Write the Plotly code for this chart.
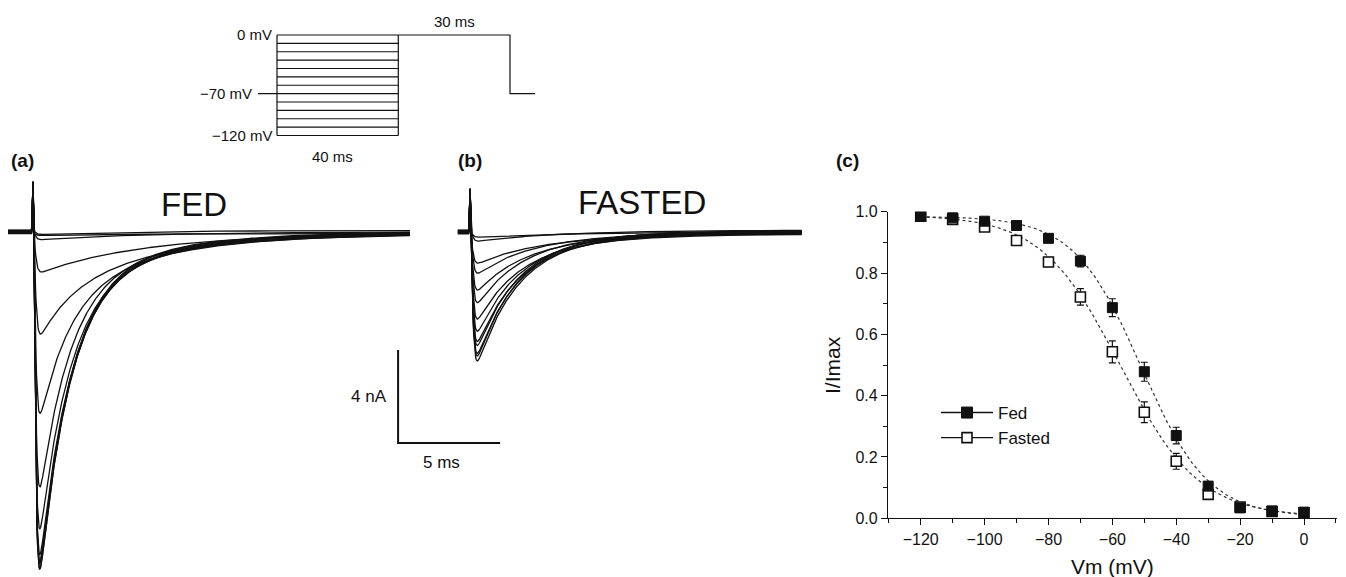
import numpy as np
import plotly.graph_objects as go

W, H = 1346, 577
FONT = "Liberation Sans, Arial, sans-serif"
INK = "#111111"

# ---------------- data ----------------
# prepulse steps of the inactivation protocol (mV)
PREPULSE_MV = [-120, -110, -100, -90, -80, -70, -60, -50, -40, -30, -20, -10, 0]
HOLDING_MV = -70
TEST_MV = 0

# steady-state inactivation, I/Imax (mean and SEM)
FED_IMAX = [0.985, 0.980, 0.969, 0.955, 0.913, 0.839, 0.687, 0.478, 0.270, 0.105, 0.034, 0.024, 0.020]
FED_SEM = [0.003, 0.004, 0.005, 0.005, 0.006, 0.019, 0.029, 0.031, 0.027, 0.013, 0.005, 0.004, 0.004]
FASTED_IMAX = [0.985, 0.975, 0.950, 0.906, 0.836, 0.722, 0.543, 0.346, 0.186, 0.078, 0.037, 0.022, 0.018]
FASTED_SEM = [0.003, 0.004, 0.006, 0.007, 0.015, 0.027, 0.036, 0.034, 0.026, 0.009, 0.005, 0.004, 0.004]

# Boltzmann fits: I/Imax = bottom + (top - bottom) / (1 + exp((V - v_half) / k))
FED_FIT = {"v_half": -51.0, "k": 10.5, "top": 0.985, "bottom": 0.005}
FASTED_FIT = {"v_half": -57.5, "k": 12.3, "top": 0.99, "bottom": 0.005}

# representative current sweeps, one per prepulse (peak inward current, nA)
FED_PEAK_NA = [14.54, 14.45, 14.32, 14.11, 13.89, 12.69, 11.01, 7.78, 4.47, 1.68, 0.34, 0.17, 0.09]
FED_SLOW_FRAC = [0.12, 0.12, 0.12, 0.13, 0.14, 0.15, 0.18, 0.30, 0.58, 0.95, 1.0, 1.0, 1.0]
FED_BASELINE_NA = [0.04, -0.03, 0.06, -0.05, 0.02, -0.07, 0.05, -0.02, 0.08, -0.04, 0.01, 0.07, -0.06]

FASTED_PEAK_NA = [5.51, 5.38, 5.20, 4.95, 4.65, 4.30, 3.66, 3.10, 2.49, 1.81, 1.29, 0.47, 0.22]
FASTED_SLOW_FRAC = [0.08, 0.08, 0.10, 0.12, 0.14, 0.18, 0.22, 0.28, 0.38, 0.50, 0.65, 0.85, 1.0]
FASTED_BASELINE_NA = [-0.04, 0.05, -0.02, 0.07, -0.06, 0.03, -0.08, 0.06, -0.01, 0.04, -0.05, 0.08, 0.0]

# kinetics (ms)
DT = 0.025
TAU_ACT = 0.08
FED_SWEEP = {"duration": 19.7, "onset": 1.225, "tau_fast": 1.5, "tau_slow": 5.5, "spike": 2.1}
FASTED_SWEEP = {"duration": 16.85, "onset": 0.6, "tau_fast": 2.0, "tau_slow": 4.5, "spike": 1.8}
FASTED_X_OFFSET = 22.05   # panel (b) sits to the right on the shared time axis

SCALE_T, SCALE_I = 5, 4   # scale bar: 5 ms, 4 nA


def sweep(peak, slow, base, duration, onset, tau_fast, tau_slow, spike):
    t = np.arange(0, duration + DT / 2, DT)
    s = t - onset
    sp = np.clip(s, 0, None)
    g = (1 - np.exp(-sp / TAU_ACT)) ** 3 * ((1 - slow) * np.exp(-sp / tau_fast) + slow * np.exp(-sp / tau_slow))
    g = np.where(s > 0, g, 0.0)
    g = g / g.max()
    cur = base - peak * g + spike * np.clip(1 - np.abs(s) / 0.06, 0, None)
    return t, cur


def boltzmann(v, p):
    return p["bottom"] + (p["top"] - p["bottom"]) / (1 + np.exp((v - p["v_half"]) / p["k"]))


fig = go.Figure()

# ---------------- current traces (a) and (b) ----------------
for pk, sl, bl in zip(FED_PEAK_NA, FED_SLOW_FRAC, FED_BASELINE_NA):
    t, cur = sweep(pk, sl, bl, **FED_SWEEP)
    fig.add_trace(go.Scatter(x=t, y=cur, mode="lines", line=dict(color=INK, width=1.3),
                             showlegend=False, hoverinfo="skip", xaxis="x", yaxis="y"))
for pk, sl, bl in zip(FASTED_PEAK_NA, FASTED_SLOW_FRAC, FASTED_BASELINE_NA):
    t, cur = sweep(pk, sl, bl, **FASTED_SWEEP)
    fig.add_trace(go.Scatter(x=t + FASTED_X_OFFSET, y=cur, mode="lines", line=dict(color=INK, width=1.3),
                             showlegend=False, hoverinfo="skip", xaxis="x", yaxis="y"))

# scale bar
sb_t0, sb_i0 = 19.12, -9.075
fig.add_trace(go.Scatter(x=[sb_t0, sb_t0, sb_t0 + SCALE_T], y=[sb_i0 + SCALE_I, sb_i0, sb_i0],
                         mode="lines", line=dict(color=INK, width=2), showlegend=False,
                         hoverinfo="skip", xaxis="x", yaxis="y"))

# ---------------- voltage protocol sketch ----------------
BOX_L, BOX_R, TEST_R, END = 0.0686, 0.5065, 0.9097, 1.0
px, py = [], []
for v in PREPULSE_MV:
    px += [BOX_L, BOX_R, None]
    py += [v, v, None]
px += [BOX_L, BOX_L, None, BOX_R, BOX_R, None]
py += [min(PREPULSE_MV), max(PREPULSE_MV), None, min(PREPULSE_MV), max(PREPULSE_MV), None]
px += [0, BOX_L, None]
py += [HOLDING_MV, HOLDING_MV, None]
px += [BOX_R, TEST_R, TEST_R, END]
py += [TEST_MV, TEST_MV, HOLDING_MV, HOLDING_MV]
fig.add_trace(go.Scatter(x=px, y=py, mode="lines", line=dict(color=INK, width=1.2),
                         showlegend=False, hoverinfo="skip", xaxis="x4", yaxis="y4"))

# ---------------- inactivation curves (c) ----------------
vfit = np.linspace(min(PREPULSE_MV), max(PREPULSE_MV), 241)
for p in (FED_FIT, FASTED_FIT):
    fig.add_trace(go.Scatter(x=vfit, y=boltzmann(vfit, p), mode="lines",
                             line=dict(color="#333333", width=1.2, dash="dot"),
                             showlegend=False, hoverinfo="skip", xaxis="x3", yaxis="y3"))

err_style = dict(type="data", color=INK, thickness=1.2, width=3.5)
fig.add_trace(go.Scatter(x=PREPULSE_MV, y=FASTED_IMAX, mode="markers",
                         error_y=dict(array=FASTED_SEM, **err_style),
                         marker=dict(symbol="square", size=10, color="white", line=dict(color=INK, width=1.6)),
                         showlegend=False, xaxis="x3", yaxis="y3"))
fig.add_trace(go.Scatter(x=PREPULSE_MV, y=FED_IMAX, mode="markers",
                         error_y=dict(array=FED_SEM, **err_style),
                         marker=dict(symbol="square", size=10, color=INK, line=dict(color=INK, width=1)),
                         showlegend=False, xaxis="x3", yaxis="y3"))

# legend entries
fig.add_trace(go.Scatter(x=[None], y=[None], mode="lines+markers", name="Fed",
                         line=dict(color=INK, width=1.4),
                         marker=dict(symbol="square", size=11, color=INK, line=dict(color=INK, width=1)),
                         xaxis="x3", yaxis="y3"))
fig.add_trace(go.Scatter(x=[None], y=[None], mode="lines+markers", name="Fasted",
                         line=dict(color=INK, width=1.4),
                         marker=dict(symbol="square", size=10, color="white", line=dict(color=INK, width=1.6)),
                         xaxis="x3", yaxis="y3"))


def X(p):
    return p / W


def Y(p):
    return 1 - p / H


hidden = dict(visible=False, showgrid=False, zeroline=False, fixedrange=True, automargin=False)
tick_font = dict(family=FONT, size=16, color=INK)

fig.update_layout(
    template="none",
    width=W, height=H, autosize=False,
    margin=dict(l=0, r=0, t=0, b=0, pad=0, autoexpand=False),
    paper_bgcolor="white", plot_bgcolor="white",
    font=dict(family=FONT, color=INK),
    xaxis=dict(domain=[0, X(820)], range=[-0.392, 39.80], anchor="y", **hidden),
    yaxis=dict(domain=[0, Y(170)], range=[-14.84, 2.667], anchor="x", **hidden),
    xaxis4=dict(domain=[X(258), X(535)], range=[0, 1], anchor="y4", **hidden),
    yaxis4=dict(domain=[Y(143.9), Y(26.6)], range=[-130, 10], anchor="x4", **hidden),
    xaxis3=dict(domain=[X(888), X(1337)], range=[-130.24, 10.33], anchor="y3",
                tickmode="array", tickvals=[-120, -100, -80, -60, -40, -20, 0],
                ticktext=["\u2212120", "\u2212100", "\u221280", "\u221260", "\u221240", "\u221220", "0"],
                ticks="outside", ticklen=6, tickwidth=1.2, tickcolor=INK,
                minor=dict(dtick=10, tick0=0, ticks="outside", ticklen=3.5, tickwidth=1.2, tickcolor=INK,
                           showgrid=False),
                showline=True, linecolor=INK, linewidth=1.3, showgrid=False, zeroline=False,
                tickfont=tick_font, fixedrange=True, automargin=False),
    yaxis3=dict(domain=[Y(518.3), Y(211.7)], range=[0, 1.0], anchor="x3",
                tickmode="linear", tick0=0, dtick=0.2, tickformat=".1f",
                ticks="outside", ticklen=6, tickwidth=1.2, tickcolor=INK,
                minor=dict(dtick=0.1, tick0=0, ticks="outside", ticklen=3.5, tickwidth=1.2, tickcolor=INK,
                           showgrid=False),
                showline=True, linecolor=INK, linewidth=1.3, showgrid=False, zeroline=False,
                tickfont=tick_font, fixedrange=True, automargin=False),
    legend=dict(x=X(936), y=Y(395), xanchor="left", yanchor="top",
                bgcolor="rgba(0,0,0,0)", borderwidth=0, itemwidth=52, tracegroupgap=0,
                font=dict(family=FONT, size=17, color=INK)),
    showlegend=True,
)

ann = []


def note(text, x, y, size, xref="paper", yref="paper", bold=False, xanchor="center", yanchor="middle", **kw):
    ann.append(dict(text=f"<b>{text}</b>" if bold else text, x=x, y=y, xref=xref, yref=yref,
                    xanchor=xanchor, yanchor=yanchor, showarrow=False,
                    font=dict(family=FONT, size=size, color=INK), **kw))


# panel labels and titles
note("(a)", X(22), Y(160), 19, bold=True)
note("(b)", X(470), Y(160), 19, bold=True)
note("(c)", X(847), Y(160), 19, bold=True)
note("FED", X(194), Y(204), 33)
note("FASTED", X(642), Y(203), 33)

# scale bar labels
note(f"{SCALE_I} nA", sb_t0 - 0.45, sb_i0 + SCALE_I / 2, 17, xref="x", yref="y", xanchor="right")
note(f"{SCALE_T} ms", sb_t0 + SCALE_T / 2 - 0.35, sb_i0, 17, xref="x", yref="y", yanchor="top", yshift=-8)

# protocol labels
note(f"{TEST_MV} mV", BOX_L, TEST_MV, 15, xref="x4", yref="y4", xanchor="right", xshift=-3)
note(f"\u2212{abs(HOLDING_MV)} mV", 0, HOLDING_MV, 15, xref="x4", yref="y4", xanchor="right", xshift=-4)
note(f"\u2212{abs(min(PREPULSE_MV))} mV", BOX_L, min(PREPULSE_MV), 15, xref="x4", yref="y4",
     xanchor="right", xshift=-3)
note("40 ms", 0.27, min(PREPULSE_MV), 15, xref="x4", yref="y4", yanchor="top", yshift=-10)
note("30 ms", (BOX_R + TEST_R) / 2, TEST_MV, 15, xref="x4", yref="y4", yanchor="bottom", yshift=3)

# axis titles of (c)
note("Vm (mV)", X(1112), Y(566), 21)
note("I/Imax", X(832), Y(365), 21, textangle=-90)

fig.update_layout(annotations=ann)
fig.write_html("out.html")
